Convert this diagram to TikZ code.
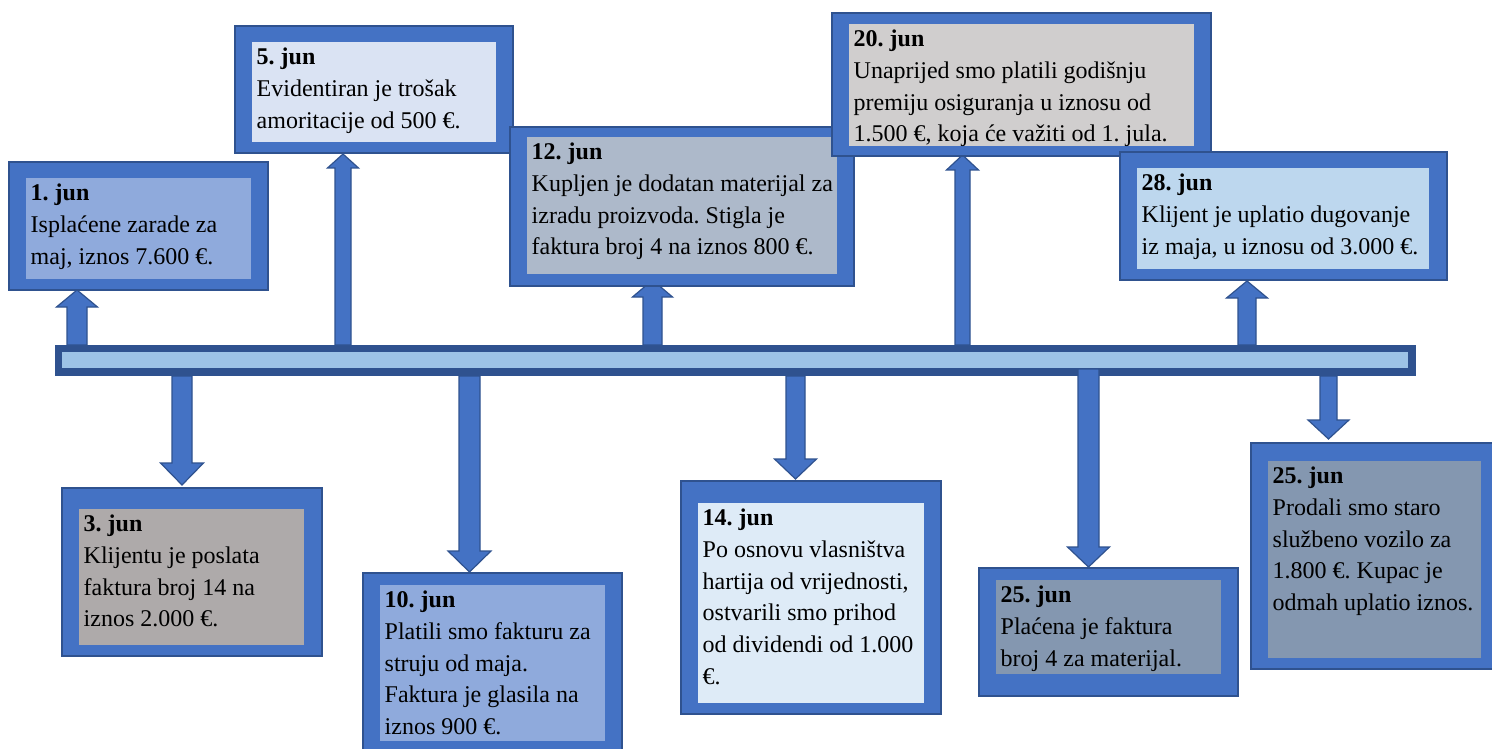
\documentclass[tikz,border=0pt]{standalone}
\usepackage{fontspec}
\setmainfont{Liberation Serif}
\usetikzlibrary{fit}
\frenchspacing
\definecolor{cMid}{HTML}{4472C4}
\definecolor{cDark}{HTML}{2F528F}
\definecolor{cLight}{HTML}{9DC3E6}
\definecolor{fA}{HTML}{8FAADC}
\definecolor{fB}{HTML}{DAE3F3}
\definecolor{fC}{HTML}{ADB9CA}
\definecolor{fD}{HTML}{D0CECE}
\definecolor{fE}{HTML}{BDD7EE}
\definecolor{fF}{HTML}{AEAAAA}
\definecolor{fG}{HTML}{DEEBF7}
\definecolor{fH}{HTML}{8497B0}
\newcommand\blockarrow[6]{% cx, ystart, ybase, ytip, shaft half, head half
  \draw[arrowshape] (#1-#5,#2) -- (#1-#5,#3) -- (#1-#6,#3) -- (#1,#4) -- (#1+#6,#3) -- (#1+#5,#3) -- (#1+#5,#2) -- cycle;}
\newcommand\evbox[7]{% name, outer NW, outer SE, inner NW, inner SE, fill, text
  \node[outerbox, fit={#2 #3}] (#1) {};
  \node[innerbox, fill=#6, fit={#4 #5}] (#1-in) {};
  \node[txt, anchor=north west] (#1-tx) at ([shift={(4.5,0.3)}]#1-in.north west) {\strut#7};}
\begin{document}
\begin{tikzpicture}[x=1pt,y=-1pt,
  outerbox/.style={fill=cMid, draw=cDark, line width=1.5pt, inner sep=0pt, outer sep=0pt},
  innerbox/.style={inner sep=0pt, outer sep=0pt},
  arrowshape/.style={fill=cMid, draw=cDark, line width=1.2pt, line join=miter},
  txt/.style={inner sep=0pt, align=left, font=\fontsize{24}{31.7}\selectfont, text=black}]
\clip (0,0) rectangle (1492,749);
\fill[white] (0,0) rectangle (1492,749);
% timeline bar
\node[fill=cDark, inner sep=0pt, outer sep=0pt, fit={(55,345) (1416,376)}] (bar) {};
\node[fill=cLight, inner sep=0pt, outer sep=0pt, fit={(62,352) (1408,368)}] (barin) {};
% up arrows
\blockarrow{77}{345}{307}{290}{10}{20.5}
\blockarrow{343}{345}{168}{154}{8}{15.5}
\blockarrow{652.5}{345}{297}{280}{9.5}{20}
\blockarrow{962.5}{345}{170}{155}{7.5}{16}
\blockarrow{1247}{345}{298}{281}{9}{20.5}
% down arrows
\blockarrow{182}{376}{463}{485}{10}{21.5}
\blockarrow{469.5}{376}{551}{572}{10.5}{21.5}
\blockarrow{795.5}{376}{459}{479}{9.5}{21}
\blockarrow{1088.5}{369}{547}{567}{10.5}{21}
\blockarrow{1328.5}{376}{420}{439}{8.5}{20.5}
% boxes
\evbox{b1}{(9,162)}{(268,290)}{(26,178)}{(251,279)}{fA}{\textbf{1. jun}\\Isplaćene zarade za\\maj, iznos 7.600 €.}
\evbox{b5}{(235,26)}{(513,153)}{(252,42)}{(496,142)}{fB}{\textbf{5. jun}\\Evidentiran je trošak\\amoritacije od 500 €.}
\evbox{b12}{(510,127)}{(854,286)}{(527,137)}{(837,274)}{fC}{\textbf{12. jun}\\Kupljen je dodatan materijal za\\izradu proizvoda. Stigla je\\faktura broj 4 na iznos 800 €.}
\evbox{b20}{(832,13)}{(1211,156)}{(849,24)}{(1194,146)}{fD}{\textbf{20. jun}\\Unaprijed smo platili godišnju\\premiju osiguranja u iznosu od\\1.500 €, koja će važiti od 1. jula.}
\evbox{b28}{(1120,152)}{(1447,280)}{(1137,168)}{(1429,269)}{fE}{\textbf{28. jun}\\Klijent je uplatio dugovanje\\iz maja, u iznosu od 3.000 €.}
\evbox{b3}{(62,488)}{(322,656)}{(79,509)}{(304,645)}{fF}{\textbf{3. jun}\\Klijentu je poslata\\faktura broj 14 na\\iznos 2.000 €.}
\evbox{b10}{(363,573)}{(622,762)}{(380,585)}{(605,741)}{fA}{\textbf{10. jun}\\Platili smo fakturu za\\struju od maja.\\Faktura je glasila na\\iznos 900 €.}
\evbox{b14}{(681,481)}{(941,714)}{(698,503)}{(924,703)}{fG}{\textbf{14. jun}\\Po osnovu vlasništva\\hartija od vrijednosti,\\ostvarili smo prihod\\od dividendi od 1.000\\€.}
\evbox{b25a}{(979,568)}{(1238,696)}{(996,580)}{(1221,674)}{fH}{\textbf{25. jun}\\Plaćena je faktura\\broj 4 za materijal.}
\evbox{b25b}{(1251,443)}{(1500,669)}{(1268,461)}{(1481,658)}{fH}{\textbf{25. jun}\\Prodali smo staro\\službeno vozilo za\\1.800 €. Kupac je\\odmah uplatio iznos.}
\end{tikzpicture}
\end{document}
